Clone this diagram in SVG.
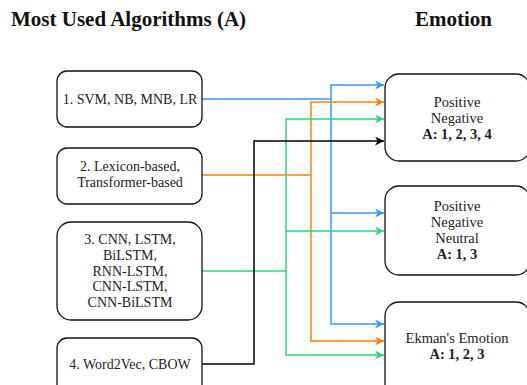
<svg xmlns="http://www.w3.org/2000/svg" width="527" height="385" viewBox="0 0 527 385">
  <style>
    .title { font-family: "Liberation Serif", "Times New Roman", serif; font-weight: bold; font-size: 21px; fill: #111; }
    .box { fill: #fff; stroke: #111; stroke-width: 1.3; }
    .lbl { font-family: "Liberation Serif", "Times New Roman", serif; font-size: 14px; fill: #222; text-anchor: middle; }
    .lblr { font-family: "Liberation Serif", "Times New Roman", serif; font-size: 14.5px; fill: #222; text-anchor: middle; }
    .b { font-weight: bold; }
    .wire { fill: none; stroke-width: 1.5; }
    .blue { stroke: #3399FF; }
    .orange { stroke: #FF8000; }
    .green { stroke: #2BD67B; }
    .black { stroke: #000; }
  </style>
  <defs>
    <marker id="ah-blue" viewBox="0 0 10 10" refX="10" refY="5" markerWidth="9" markerHeight="9" markerUnits="userSpaceOnUse" orient="auto">
      <path d="M0,0 L10,5 L0,10 L3,5 Z" fill="#3399FF"/>
    </marker>
    <marker id="ah-orange" viewBox="0 0 10 10" refX="10" refY="5" markerWidth="9" markerHeight="9" markerUnits="userSpaceOnUse" orient="auto">
      <path d="M0,0 L10,5 L0,10 L3,5 Z" fill="#FF8000"/>
    </marker>
    <marker id="ah-green" viewBox="0 0 10 10" refX="10" refY="5" markerWidth="9" markerHeight="9" markerUnits="userSpaceOnUse" orient="auto">
      <path d="M0,0 L10,5 L0,10 L3,5 Z" fill="#2BD67B"/>
    </marker>
    <marker id="ah-black" viewBox="0 0 10 10" refX="10" refY="5" markerWidth="9" markerHeight="9" markerUnits="userSpaceOnUse" orient="auto">
      <path d="M0,0 L10,5 L0,10 L3,5 Z" fill="#000"/>
    </marker>
  </defs>

  <rect width="527" height="385" fill="#fff"/>

  <text class="title" x="11" y="26">Most Used Algorithms (A)</text>
  <text class="title" x="415" y="26">Emotion</text>

  <!-- connectors -->
  <g id="connectors">
    <!-- 1: blue -->
    <path class="wire blue" d="M202,99 H331"/>
    <path class="wire blue" d="M331,99 V85 H384" marker-end="url(#ah-blue)"/>
    <path class="wire blue" d="M331,99 V213 H384" marker-end="url(#ah-blue)"/>
    <path class="wire blue" d="M331,213 V324 H384" marker-end="url(#ah-blue)"/>
    <!-- 2: orange -->
    <path class="wire orange" d="M202,175 H311"/>
    <path class="wire orange" d="M311,175 V102 H384" marker-end="url(#ah-orange)"/>
    <path class="wire orange" d="M311,175 V341 H384" marker-end="url(#ah-orange)"/>
    <!-- 3: green -->
    <path class="wire green" d="M202,271 H286"/>
    <path class="wire green" d="M286,271 V119 H384" marker-end="url(#ah-green)"/>
    <path class="wire green" d="M286,231 H384" marker-end="url(#ah-green)"/>
    <path class="wire green" d="M286,271 V355 H384" marker-end="url(#ah-green)"/>
    <!-- 4: black -->
    <path class="wire black" d="M202,364 H254 V141 H384" marker-end="url(#ah-black)"/>
  </g>

  <!-- algorithm nodes -->
  <g id="alg1">
    <rect class="box" x="57" y="71" width="145" height="56" rx="10"/>
    <text class="lbl" x="130" y="104">1. SVM, NB, MNB, LR</text>
  </g>
  <g id="alg2">
    <rect class="box" x="57" y="148" width="145" height="56" rx="10"/>
    <text class="lbl" x="130" y="171">2. Lexicon-based,</text>
    <text class="lbl" x="130" y="187">Transformer-based</text>
  </g>
  <g id="alg3">
    <rect class="box" x="57" y="222" width="145" height="98" rx="14"/>
    <text class="lbl" x="130" y="244">3. CNN, LSTM,</text>
    <text class="lbl" x="130" y="260">BiLSTM,</text>
    <text class="lbl" x="130" y="276">RNN-LSTM,</text>
    <text class="lbl" x="130" y="291">CNN-LSTM,</text>
    <text class="lbl" x="130" y="307">CNN-BiLSTM</text>
  </g>
  <g id="alg4">
    <rect class="box" x="57" y="338" width="145" height="60" rx="10"/>
    <text class="lbl" x="130" y="369">4. Word2Vec, CBOW</text>
  </g>

  <!-- emotion nodes -->
  <g id="emo1">
    <rect class="box" x="385" y="74" width="145" height="87" rx="14"/>
    <text class="lblr" x="457" y="107">Positive</text>
    <text class="lblr" x="457" y="123">Negative</text>
    <text class="lblr b" x="457" y="139">A: 1, 2, 3, 4</text>
  </g>
  <g id="emo2">
    <rect class="box" x="385" y="186" width="145" height="89" rx="14"/>
    <text class="lblr" x="457" y="211">Positive</text>
    <text class="lblr" x="457" y="227">Negative</text>
    <text class="lblr" x="457" y="243">Neutral</text>
    <text class="lblr b" x="457" y="259">A: 1, 3</text>
  </g>
  <g id="emo3">
    <rect class="box" x="385" y="302" width="145" height="100" rx="14"/>
    <text class="lblr" x="457" y="343">Ekman's Emotion</text>
    <text class="lblr b" x="457" y="359">A: 1, 2, 3</text>
  </g>
</svg>
